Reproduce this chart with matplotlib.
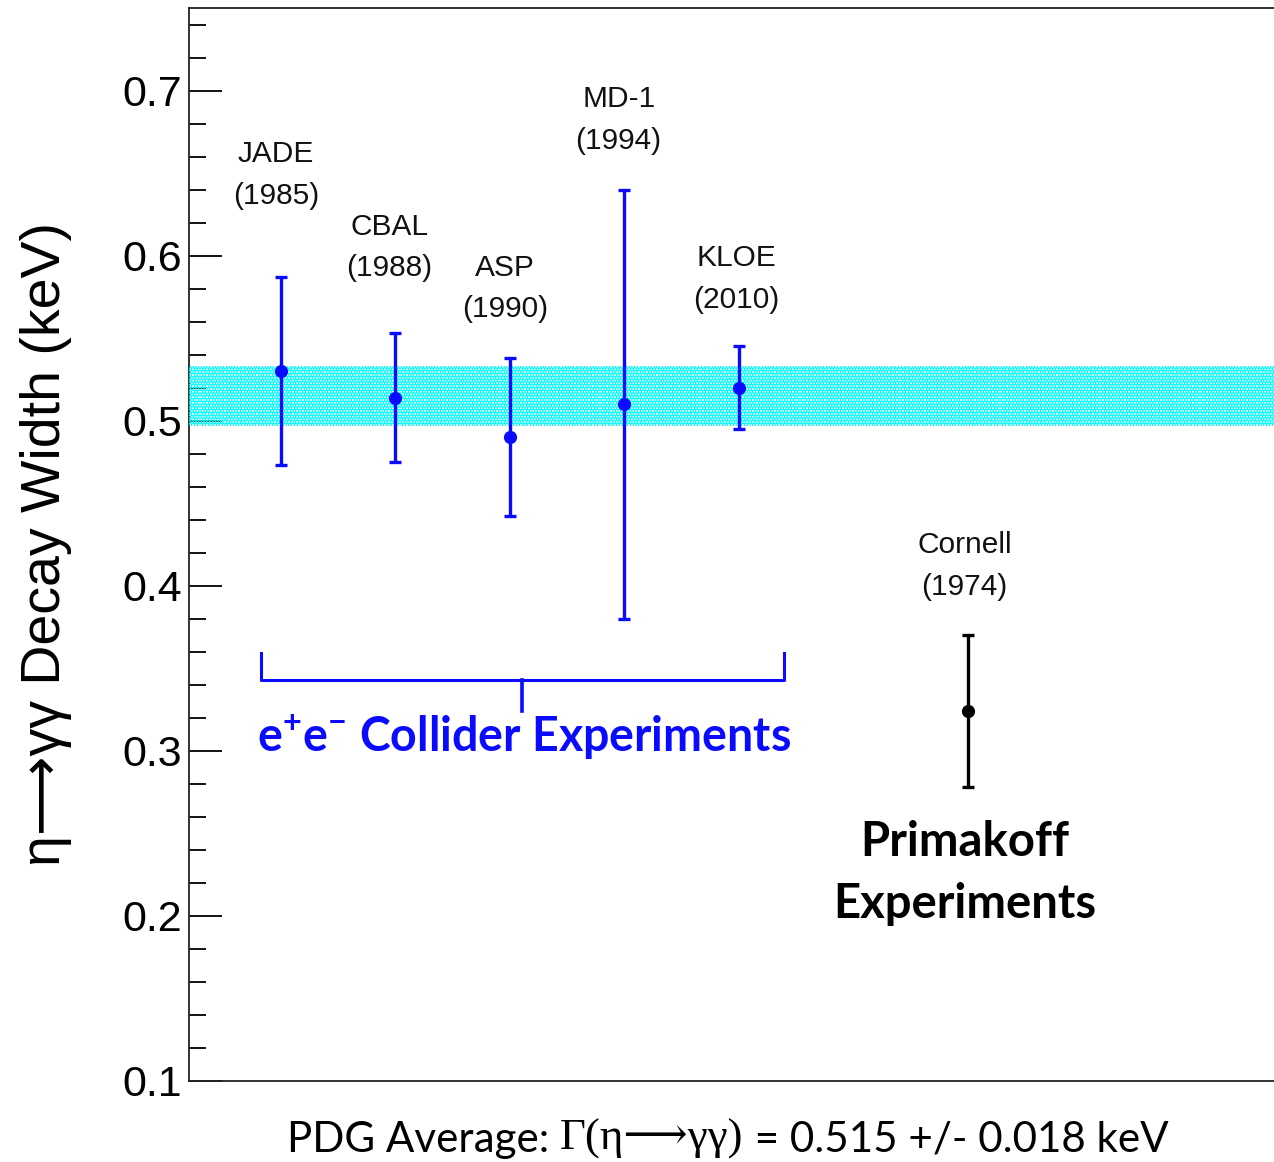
import matplotlib
matplotlib.use("Agg")
import matplotlib.pyplot as plt
from matplotlib.ticker import MultipleLocator, FormatStrFormatter

# measurements of eta -> gamma gamma decay width (keV)
experiments = ["JADE", "CBAL", "ASP", "MD-1", "KLOE", "Cornell"]
years = ["1985", "1988", "1990", "1994", "2010", "1974"]
x_pos = [1, 2, 3, 4, 5, 7]
width = [0.530, 0.514, 0.490, 0.510, 0.520, 0.324]
err = [0.057, 0.039, 0.048, 0.130, 0.025, 0.046]
point_colors = ["#0a0aff"] * 5 + ["black"]

# where the experiment names sit (data coords)
label_x = [0.96, 1.95, 2.96, 3.95, 4.98, 6.97]
label_y = [0.649, 0.605, 0.580, 0.682, 0.586, 0.412]

pdg_mean = 0.515
pdg_err = 0.018

plt.rcParams["mathtext.fontset"] = "custom"
plt.rcParams["mathtext.rm"] = "Lato:bold"
plt.rcParams["mathtext.it"] = "Lato:bold"
plt.rcParams["mathtext.bf"] = "Lato:bold"
plt.rcParams["hatch.linewidth"] = 2.0

SANS = ["Liberation Sans", "DejaVu Sans"]
SERIF = ["Liberation Serif", "DejaVu Serif", "DejaVu Sans"]
BLUE = "#0a0aff"

fig = plt.figure(figsize=(12.74, 11.62), dpi=100)
W, H = 1274, 1162
ax = fig.add_axes([189 / W, 1 - 1081 / H, 1 - 189 / W, (1081 - 8) / H])

ax.set_xlim(0.2, 9.67)
ax.set_ylim(0.1, 0.75)

# PDG average band
ax.axhspan(pdg_mean - pdg_err, pdg_mean + pdg_err, facecolor="none",
           edgecolor="#00ffff", hatch="......", linewidth=0, zorder=3)

for xi, w, e, c in zip(x_pos, width, err, point_colors):
    ax.errorbar(xi, w, yerr=e, fmt="o", color=c, ms=8.5, elinewidth=2.4,
                capsize=4, capthick=2.4, zorder=4)

for lx, ly, name, yr in zip(label_x, label_y, experiments, years):
    ax.text(lx, ly, f"{name}\n({yr})", ha="center", va="center",
            fontsize=21.5, family=SANS, linespacing=1.62, color="#111111")

# bracket around the collider experiments
ax.plot([0.825, 0.825, 5.39, 5.39], [0.359, 0.343, 0.343, 0.359],
        color=BLUE, lw=2.2, solid_joinstyle="round")
ax.plot([3.11, 3.11], [0.343, 0.324], color=BLUE, lw=2.6)
ax.text(3.12, 0.308, r"e$^{+}$e$^{-}$ Collider Experiments", ha="center",
        va="center", fontsize=33.5, family="Lato", weight="bold", color=BLUE)
ax.text(6.97, 0.226, "Primakoff\nExperiments", ha="center", va="center",
        fontsize=34, family="Lato", weight="bold", color="black",
        linespacing=1.48)

# axes styling
ax.yaxis.set_major_locator(MultipleLocator(0.1))
ax.yaxis.set_minor_locator(MultipleLocator(0.02))
ax.yaxis.set_major_formatter(FormatStrFormatter("%.1f"))
ax.tick_params(axis="y", which="major", direction="in", length=24, width=1.3,
               labelsize=31, pad=5)
ax.tick_params(axis="y", which="minor", direction="in", length=12, width=1.3)
for lab in ax.get_yticklabels():
    lab.set_family(SANS)
ax.set_xticks([])
ax.spines["right"].set_visible(False)
for s in ["left", "top", "bottom"]:
    ax.spines[s].set_linewidth(1.3)
    ax.spines[s].set_color("#222222")

ax.set_ylabel("η⟶γγ Decay Width (keV)", fontsize=40, family=SANS)
ax.yaxis.set_label_coords(-0.108, 0.5)

# PDG average line below the plot, mixed fonts
t1 = fig.text(287 / W, 1 - 1152 / H, "PDG Average: ", fontsize=30.3,
              family="Lato", va="baseline")
t2 = ax.annotate("Γ(η⟶γγ)", xy=(1, 0), xycoords=t1, va="bottom", ha="left",
                 fontsize=32.3, family=SERIF)
ax.annotate(" = 0.515 +/- 0.018 keV", xy=(1, 0), xycoords=t2, va="bottom",
            ha="left", fontsize=30.3, family="Lato")

fig.savefig("out.png", dpi=100)
